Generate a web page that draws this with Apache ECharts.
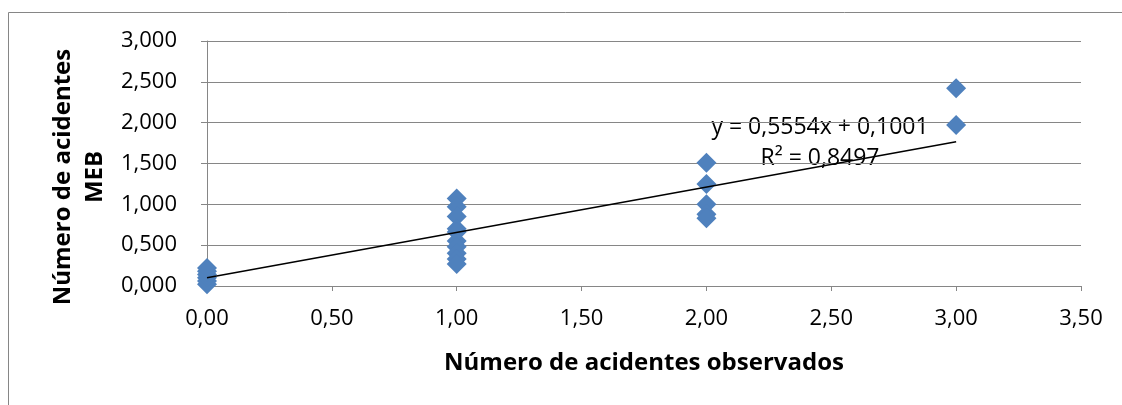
<!DOCTYPE html>
<html>
<head>
<meta charset="utf-8">
<script src="https://cdn.jsdelivr.net/npm/echarts@6/dist/echarts.min.js"></script>
<style>
html,body{margin:0;padding:0;background:#fff;}
#chart{width:1122px;height:405px;}
</style>
</head>
<body>
<div id="chart"></div>
<script>
// Observed accidents (x) vs MEB-estimated accidents (y)
const obsX0 = [0, 0, 0, 0, 0, 0];
const mebY0 = [0.02, 0.06, 0.10, 0.14, 0.18, 0.22];
const obsX1 = [1, 1, 1, 1, 1, 1, 1, 1, 1, 1];
const mebY1 = [1.07, 0.97, 0.85, 0.70, 0.66, 0.55, 0.48, 0.40, 0.33, 0.27];
const obsX2 = [2, 2, 2, 2, 2];
const mebY2 = [1.51, 1.25, 1.00, 0.88, 0.83];
const obsX3 = [3, 3];
const mebY3 = [2.42, 1.97];
const trendSlope = 0.5554;
const trendIntercept = 0.1001;
const trendR2 = 0.8497;
const trendRange = [0, 3];

const allX = obsX0.concat(obsX1, obsX2, obsX3);
const allY = mebY0.concat(mebY1, mebY2, mebY3);
const points = allX.map((x, i) => [x, allY[i]]);
const trend = trendRange.map(x => [x, trendSlope * x + trendIntercept]);

const FONT = '"Open Sans", "Noto Sans", sans-serif';
const fmt = (v, d) => v.toFixed(d).replace('.', ',');

const chart = echarts.init(document.getElementById('chart'));
chart.setOption({
  animation: false,
  backgroundColor: '#ffffff',
  grid: {left: 207, right: 41, top: 41, bottom: 119},
  xAxis: {
    type: 'value', min: 0, max: 3.5, interval: 0.5,
    axisLine: {show: true, lineStyle: {color: '#868686', width: 1}},
    axisTick: {show: true, length: 5, lineStyle: {color: '#868686'}},
    splitLine: {show: false},
    axisLabel: {color: '#000', fontFamily: FONT, fontSize: 22, margin: 22, formatter: v => fmt(v, 2)},
    name: 'Número de acidentes observados',
    nameLocation: 'middle', nameGap: 65,
    nameTextStyle: {color: '#000', fontFamily: FONT, fontSize: 24, fontWeight: 'bold'}
  },
  yAxis: {
    type: 'value', min: 0, max: 3, interval: 0.5,
    axisLine: {show: true, lineStyle: {color: '#868686', width: 1}},
    axisTick: {show: true, length: 6, lineStyle: {color: '#868686'}},
    splitLine: {show: true, lineStyle: {color: '#868686', width: 1}},
    axisLabel: {color: '#000', fontFamily: FONT, fontSize: 22, margin: 30, formatter: v => fmt(v, 3)}
  },
  graphic: [
    {type: 'rect', silent: true, shape: {x: 8.5, y: 12.5, width: 1200, height: 600},
     style: {fill: 'none', stroke: '#868686', lineWidth: 1}},
    {type: 'text', x: 79, y: 177, rotation: Math.PI / 2,
     style: {text: 'Número de acidentes\nMEB', fill: '#000', font: 'bold 24px ' + FONT,
             textAlign: 'center', textVerticalAlign: 'middle', lineHeight: 32}},
    {type: 'text', x: 820, y: 127,
     style: {text: 'y = ' + fmt(trendSlope, 4) + 'x + ' + fmt(trendIntercept, 4), fill: '#000',
             font: '23px ' + FONT, textAlign: 'center', textVerticalAlign: 'middle'}},
    {type: 'text', x: 820, y: 158,
     style: {text: 'R² = ' + fmt(trendR2, 4), fill: '#000',
             font: '23px ' + FONT, textAlign: 'center', textVerticalAlign: 'middle'}}
  ],
  series: [
    {type: 'scatter', data: points, symbol: 'diamond', symbolSize: 20,
     itemStyle: {color: '#4f81bd', opacity: 1}, z: 3},
    {type: 'line', data: trend, symbol: 'none', lineStyle: {color: '#000', width: 1.5}, z: 4}
  ]
});
</script>
</body>
</html>
